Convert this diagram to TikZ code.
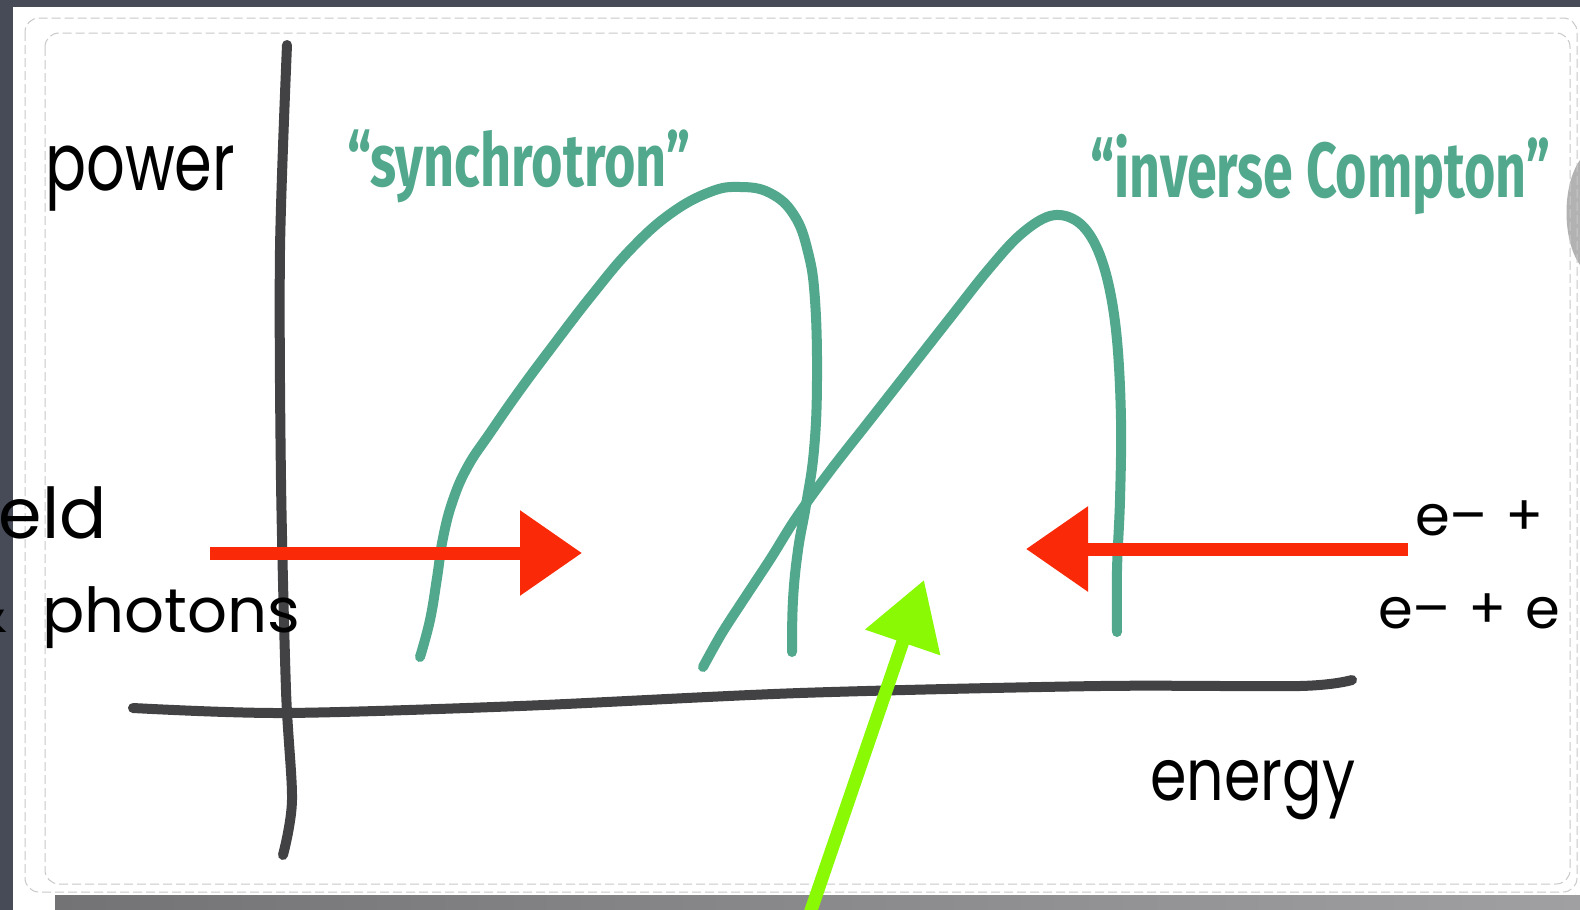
\documentclass[tikz,border=0pt]{standalone}
\usepackage{fontspec}
\usepackage{graphicx}
\setmainfont{Fira Sans}
\newfontfamily\handfont{Poppins}
\newfontfamily\labfont{Fira Sans}
\usetikzlibrary{arrows.meta}
\definecolor{bgdark}{RGB}{71,75,88}
\definecolor{curveteal}{RGB}{82,168,140}
\definecolor{arrred}{RGB}{250,42,8}
\definecolor{arrgreen}{RGB}{138,250,4}
\definecolor{axisgray}{RGB}{66,66,68}
\definecolor{dashgray}{RGB}{200,200,200}
\newcommand{\fitw}[2]{\resizebox{#1}{\height}{#2}}
\tikzset{
  axisline/.style={draw=axisgray, line width=10pt, line cap=round, line join=round},
  specline/.style={draw=curveteal, line width=10pt, line cap=round, line join=round},
  redarrow/.style={draw=arrred, line width=13pt, -{Triangle[length=62pt,width=82pt]}, fill=arrred},
  greenarrow/.style={draw=arrgreen, line width=13pt, -{Triangle[length=66pt,width=76pt]}, fill=arrgreen},
  hand/.style={inner sep=0pt, text=black, font=\handfont},
  greenlab/.style={inner sep=0pt, text=curveteal, font=\labfont\bfseries},
  cardborder/.style={draw=dashgray, line width=1pt, dash pattern=on 9pt off 4pt, rounded corners=14pt}
}
\begin{document}
\begin{tikzpicture}[x=1pt,y=-1pt]
\useasboundingbox (0,0) rectangle (1580,910);
\clip (0,0) rectangle (1580,910);
% background and card
\fill[bgdark] (0,0) rectangle (1580,910);
\shade[left color={rgb,255:red,115;green,115;blue,118}, right color={rgb,255:red,160;green,160;blue,162}] (55,893) rectangle (1580,910);
\fill[white] (13,7) rectangle (1580,895);
\fill[white] (13,895) rectangle (55,910);
\fill[gray!60] (1580,160) .. controls (1562,185) and (1562,240) .. (1580,265) -- cycle;
\draw[cardborder] (25,18) rectangle (1577,892);
\draw[cardborder] (45,33) rectangle (1570,884);
% axes
\coordinate (yaxtop) at (287,45);
\coordinate (yaxbot) at (283,855);
\coordinate (xaxl) at (133,708);
\coordinate (xaxr) at (1352,680);
\draw[axisline] plot[smooth] coordinates {(yaxtop) (280,250) (281,480) (286,690) (292,800) (yaxbot)};
\draw[axisline] plot[smooth] coordinates {(xaxl) (283,713) (520,706) (800,693) (1100,686) (1300,686) (xaxr)};
% spectra
\draw[specline] plot[smooth, tension=0.7] coordinates {(420,657) (430,620) (437,578) (443,538) (453,500) (468,466) (490,433) (520,390) (555,343) (592,295) (630,250) (670,214) (710,192) (740,187) (770,193) (794,215) (808,252) (815,300) (817,380) (814,450) (806,505) (798,550) (793,600) (792,652)};
\draw[specline] plot[smooth, tension=0.6] coordinates {(703,667) (722,633) (746,596) (771,558) (796,518) (830,471) (870,420) (910,369) (950,318) (988,270) (1020,235) (1050,216) (1075,220) (1094,242) (1108,282) (1117,340) (1121,420) (1120,500) (1117,570) (1117,632)};
% arrows
\coordinate (r1a) at (210,553);
\coordinate (r1b) at (582,553);
\coordinate (r2a) at (1408,549);
\coordinate (r2b) at (1026,549);
\coordinate (g1a) at (806,925);
\coordinate (g1b) at (924,580);
\draw[redarrow] (r1a) -- (r1b);
\draw[redarrow] (r2a) -- (r2b);
\draw[greenarrow] (g1a) -- (g1b);
% labels
\node[greenlab, anchor=base west] (synch) at (347,186) {\fontsize{74}{80}\selectfont\fitw{343pt}{“synchrotron”}};
\node[greenlab, anchor=base west] (ic) at (1090,197) {\fontsize{78}{84}\selectfont\fitw{460pt}{“inverse Compton”}};
\node[hand, anchor=base west] (power) at (45,190) {\fontsize{80}{84}\selectfont\fitw{190pt}{power}};
\node[hand, anchor=base east] (field) at (107,538) {\fontsize{70}{72}\selectfont field};
\node[hand, anchor=base west] (photons) at (42,632) {\fontsize{62}{66}\selectfont\fitw{258pt}{photons}};
\node[hand, anchor=base east] (amp) at (8,632) {\fontsize{62}{66}\selectfont \&};
\node[hand, anchor=base west] (energy) at (1150,800) {\fontsize{72}{76}\selectfont\fitw{205pt}{energy}};
\node[hand, anchor=base west] (eline1) at (1415,535) {\fontsize{56}{60}\selectfont e–\hspace{18pt}+};
\node[hand, anchor=base west] (eline2) at (1378,628) {\fontsize{56}{60}\selectfont e–\hspace{18pt}+\hspace{18pt}e};
\end{tikzpicture}
\end{document}
